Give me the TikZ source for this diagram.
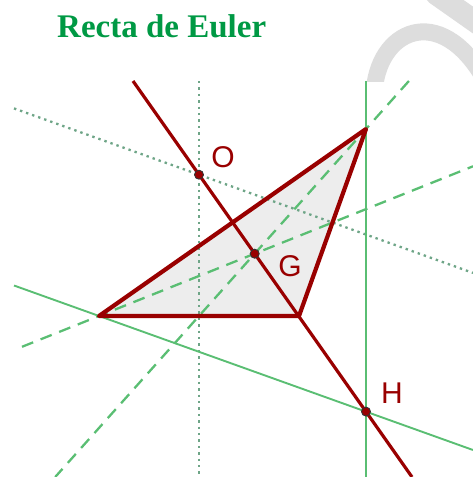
\documentclass[tikz,border=0pt]{standalone}
\usepackage{fontspec}
\setmainfont{Liberation Serif}
\setsansfont{Liberation Sans}
\usetikzlibrary{calc}
\definecolor{titlegreen}{RGB}{0,153,68}
\definecolor{dred}{RGB}{153,0,0}
\definecolor{lgreen}{RGB}{90,190,115}
\definecolor{dgreen}{RGB}{110,165,135}
\definecolor{wmark}{RGB}{221,221,221}
\definecolor{trifill}{RGB}{237,237,237}
\begin{document}
\begin{tikzpicture}[x=1pt,y=-1pt,
  edge/.style={draw=dred,line width=4.2pt,line join=round},
  euler/.style={draw=dred,line width=3.2pt},
  bisec/.style={draw=dgreen,line width=2.3pt,dash pattern=on 2.4pt off 4pt},
  alt/.style={draw=lgreen,line width=1.9pt},
  median/.style={draw=lgreen,line width=2.3pt,dash pattern=on 12pt off 8pt},
  pt/.style={circle,fill=dred,draw=black!80,line width=0.9pt,inner sep=0pt,minimum size=9pt},
  lab/.style={text=dred,font=\sffamily\fontsize{30}{30}\selectfont,inner sep=0pt}]
\useasboundingbox (0,0) rectangle (473,477);
% watermark fragments
\begin{scope}
  \clip (0,0) rectangle (473,81);
  \draw[wmark,line width=17pt] (374,95) .. controls (376,30) and (440,0) .. (485,80);
  \draw[wmark,line width=22pt,line cap=round] (436,-6) -- (490,32);
\end{scope}
% title
\node[anchor=base west,inner sep=0pt,text=titlegreen,font=\bfseries\fontsize{33}{33}\selectfont] (title) at (57,37) {Recta de Euler};
% key points
\coordinate (A) at (99,316);
\coordinate (B) at (299,316);
\coordinate (C) at (366,129);
% line end points
\coordinate (e1) at (133,81);   \coordinate (e2) at (412,477);
\coordinate (v1) at (199,81);   \coordinate (v2) at (199,477);
\coordinate (p1) at (14,108.4); \coordinate (p2) at (473,272.9);
\coordinate (h1) at (366,81);   \coordinate (h2) at (366,477);
\coordinate (a1) at (14,285.5); \coordinate (a2) at (473,450);
\coordinate (m1) at (22,346.8); \coordinate (m2) at (473,166.3);
\coordinate (n1) at (408.9,81); \coordinate (n2) at (55.2,477);
% triangle fill
\fill[trifill] (A) -- (B) -- (C) -- cycle;
% perpendicular bisectors
\draw[bisec] (v1) -- (v2);
\draw[bisec] (p1) -- (p2);
% altitudes
\draw[alt] (h1) -- (h2);
\draw[alt] (a1) -- (a2);
% medians
\draw[median] (m1) -- (m2);
\draw[median] (n1) -- (n2);
% triangle edges
\draw[edge] (A) -- (B) -- (C) -- cycle;
% Euler line
\draw[euler] (e1) -- (e2);
% points
\node[pt] (O) at (199,174.7) {};
\node[pt] (G) at (254.7,253.7) {};
\node[pt] (H) at (366,411.6) {};
\node[lab] (lO) at (223,157.5) {O};
\node[lab] (lG) at (290,266.5) {G};
\node[lab] (lH) at (392,393.5) {H};
\end{tikzpicture}
\end{document}
